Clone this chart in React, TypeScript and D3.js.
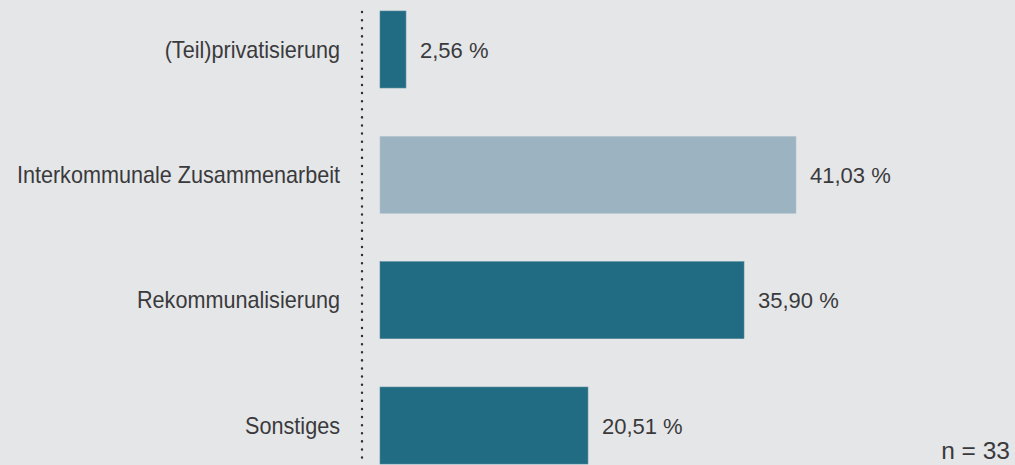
import { useEffect, useRef } from 'react';
import * as d3 from 'd3';

const categories = [
  '(Teil)privatisierung',
  'Interkommunale Zusammenarbeit',
  'Rekommunalisierung',
  'Sonstiges',
];
const values = [2.56, 41.03, 35.9, 20.51];
const valueLabels = ['2,56 %', '41,03 %', '35,90 %', '20,51 %'];
const highlight = [false, true, false, false];
const sampleNote = 'n = 33';

export default function App() {
  const ref = useRef<SVGSVGElement | null>(null);

  useEffect(() => {
    if (!ref.current) return;
    const svg = d3.select(ref.current);
    svg.selectAll('*').remove();

    const width = 1015;
    const height = 465;
    const fontFamily = '"Liberation Sans", Arial, sans-serif';

    svg.append('rect')
      .attr('width', width)
      .attr('height', height)
      .attr('fill', '#e5e6e8');

    const axisX = 362;
    const barX = 380;

    const yScale = d3.scaleBand<string>()
      .domain(categories)
      .range([11, 464])
      .paddingInner(0.386)
      .paddingOuter(0);

    const xScale = d3.scaleLinear()
      .domain([0, d3.max(values) as number])
      .range([0, 416]);

    // dotted axis line
    svg.append('line')
      .attr('x1', axisX)
      .attr('x2', axisX)
      .attr('y1', 12)
      .attr('y2', height)
      .attr('stroke', '#2e2e2e')
      .attr('stroke-width', 2.4)
      .attr('stroke-linecap', 'round')
      .attr('stroke-dasharray', '0.1 8');

    const rows = svg.append('g');

    categories.forEach((cat, i) => {
      const y = yScale(cat) as number;
      const bw = yScale.bandwidth();
      const w = xScale(values[i]);

      rows.append('rect')
        .attr('x', barX)
        .attr('y', y)
        .attr('width', w)
        .attr('height', bw)
        .attr('fill', highlight[i] ? '#9cb3c1' : '#216c82')
        .attr('stroke', highlight[i] ? '#b3c5d0' : '#4f8799')
        .attr('stroke-width', 0.6);

      // condensed category label
      rows.append('text')
        .attr('transform', `translate(340,${y + bw / 2}) scale(0.94,1)`)
        .attr('dy', '0.36em')
        .attr('text-anchor', 'end')
        .attr('fill', '#3a3a3c')
        .style('font-family', fontFamily)
        .style('font-size', '23px')
        .text(cat);

      rows.append('text')
        .attr('x', barX + w + 14)
        .attr('y', y + bw / 2)
        .attr('dy', '0.37em')
        .attr('fill', '#3a3a3c')
        .style('font-family', fontFamily)
        .style('font-size', '22px')
        .text(valueLabels[i]);
    });

    svg.append('text')
      .attr('x', 1010)
      .attr('y', 459)
      .attr('text-anchor', 'end')
      .attr('fill', '#3a3a3c')
      .style('font-family', fontFamily)
      .style('font-size', '24.5px')
      .text(sampleNote);
  }, []);

  return (
    <svg
      ref={ref}
      width={1015}
      height={465}
      style={{ position: 'absolute', left: 0, top: 0, display: 'block' }}
    />
  );
}
